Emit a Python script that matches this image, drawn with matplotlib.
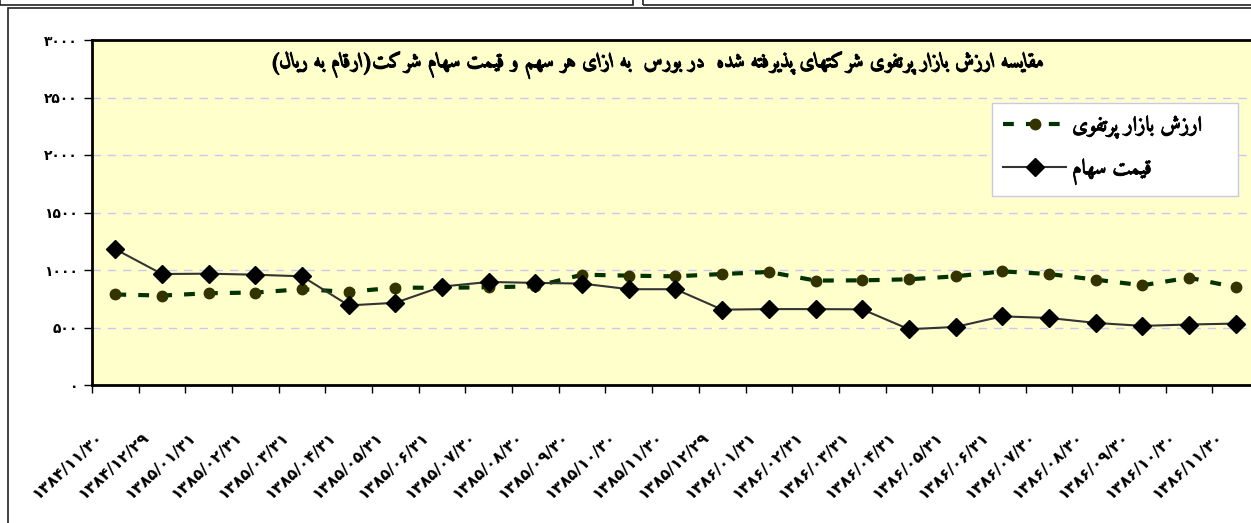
import matplotlib
matplotlib.use('Agg')
import matplotlib.pyplot as plt
import matplotlib.patheffects as pe
from matplotlib.patches import Rectangle
from matplotlib.transforms import ScaledTranslation

dates = ['1384/11/30', '1384/12/29', '1385/01/31', '1385/02/31', '1385/03/31',
         '1385/04/31', '1385/05/31', '1385/06/31', '1385/07/30', '1385/08/30',
         '1385/09/30', '1385/10/30', '1385/11/30', '1385/12/29', '1386/01/31',
         '1386/02/31', '1386/03/31', '1386/04/31', '1386/05/31', '1386/06/31',
         '1386/07/30', '1386/08/30', '1386/09/30', '1386/10/30', '1386/11/30']
portfolio = [787, 778, 798, 804, 833, 810, 847, 845, 850, 858, 959, 951, 945,
             965, 983, 908, 910, 919, 945, 988, 965, 916, 867, 933, 850]
price = [1181, 965, 968, 959, 945, 692, 715, 856, 896, 888, 882, 833, 833,
         655, 660, 660, 658, 485, 505, 597, 583, 540, 514, 526, 534]
y_ticks = [0, 500, 1000, 1500, 2000, 2500, 3000]

title = 'مقایسه ارزش بازار پرتفوی شرکتهای پذیرفته شده  در بورس  به ازای هر سهم و قیمت سهام شرکت(ارقام به ریال)'
label_portfolio = 'ارزش بازار پرتفوی'
label_price = 'قیمت سهام'

# presentation forms: isolated, final, initial, medial (None = joins right only)
FORMS = {
    'ا': ('\uFE8D', '\uFE8E', None, None),
    'ب': ('\uFE8F', '\uFE90', '\uFE91', '\uFE92'),
    'پ': ('\uFB56', '\uFB57', '\uFB58', '\uFB59'),
    'ت': ('\uFE95', '\uFE96', '\uFE97', '\uFE98'),
    'د': ('\uFEA9', '\uFEAA', None, None),
    'ذ': ('\uFEAB', '\uFEAC', None, None),
    'ر': ('\uFEAD', '\uFEAE', None, None),
    'ز': ('\uFEAF', '\uFEB0', None, None),
    'س': ('\uFEB1', '\uFEB2', '\uFEB3', '\uFEB4'),
    'ش': ('\uFEB5', '\uFEB6', '\uFEB7', '\uFEB8'),
    'ف': ('\uFED1', '\uFED2', '\uFED3', '\uFED4'),
    'ق': ('\uFED5', '\uFED6', '\uFED7', '\uFED8'),
    'ک': ('\uFB8E', '\uFB8F', '\uFB90', '\uFB91'),
    'ل': ('\uFEDD', '\uFEDE', '\uFEDF', '\uFEE0'),
    'م': ('\uFEE1', '\uFEE2', '\uFEE3', '\uFEE4'),
    'ه': ('\uFEE9', '\uFEEA', '\uFEEB', '\uFEEC'),
    'و': ('\uFEED', '\uFEEE', None, None),
    'ی': ('\uFBFC', '\uFBFD', '\uFBFE', '\uFBFF'),
}
MIRROR = {'(': ')', ')': '('}


def rtl(s):
    """Shape Persian text and put it in visual (left-to-right) order."""
    out = []
    for i, c in enumerate(s):
        if c not in FORMS:
            out.append(MIRROR.get(c, c))
            continue
        prev = s[i - 1] if i > 0 else None
        nxt = s[i + 1] if i + 1 < len(s) else None
        jp = prev in FORMS and FORMS[prev][2] is not None
        jn = FORMS[c][2] is not None and nxt in FORMS
        f = FORMS[c]
        if jp and jn:
            out.append(f[3])
        elif jp:
            out.append(f[1])
        elif jn:
            out.append(f[2])
        else:
            out.append(f[0])
    return ''.join(reversed(out))


def fa_digits(s):
    return str(s).translate(str.maketrans('0123456789', '۰۱۲۳۴۵۶۷۸۹'))


plt.rcParams['font.family'] = ['DejaVu Sans']
FA_FONT = ['Amiri', 'DejaVu Sans']

W, H = 1251, 523
fig = plt.figure(figsize=(W / 100, H / 100), dpi=100)

# frames of the sheet around the chart
fig.patches.append(Rectangle((0 / W, 1 - 4.5 / H), 633 / W, 10 / H, transform=fig.transFigure,
                             fill=False, edgecolor='#222222', lw=1.2))
fig.patches.append(Rectangle((643 / W, 1 - 4.5 / H), 620 / W, 10 / H, transform=fig.transFigure,
                             fill=False, edgecolor='#222222', lw=1.2))
fig.patches.append(Rectangle((7.5 / W, -0.05), 1.1, 1 - 7.5 / H + 0.05, transform=fig.transFigure,
                             fill=False, edgecolor='#222222', lw=1.2))

ax = fig.add_axes([92 / W, (H - 385) / H, 1167 / W, 345 / H])
ax.set_facecolor('#FFFFCC')

x = list(range(len(dates)))
ax.plot(x, portfolio, color='#003300', lw=3, dashes=(2.6, 2.9),
        marker='o', ms=7.5, mfc='#333300', mec='#333300', zorder=3,
        label=rtl(label_portfolio))
ax.plot(x, price, color='#333333', lw=1.5, marker='D', ms=9,
        mfc='black', mec='black', zorder=4, label=rtl(label_price))

ax.set_xlim(-0.5, len(dates) - 0.5)
ax.set_ylim(0, 3000)
ax.set_yticks(y_ticks)
ax.set_yticklabels([fa_digits(v) for v in y_ticks], fontweight='bold', fontsize=10)
ax.tick_params(axis='y', direction='out', length=6, width=1, pad=4)
ax.yaxis.grid(True, color='#C8C8F0', ls=(0, (6, 5)), lw=1)
ax.set_axisbelow(True)

ax.set_xticks([i - 0.5 for i in range(len(dates) + 1)])
ax.set_xticklabels([])
ax.tick_params(axis='x', direction='out', length=6, width=1)

# rotated date labels, right end sits a little left of and below each category
trans = ax.get_xaxis_transform() + ScaledTranslation(-0.15, -0.50, fig.dpi_scale_trans)
for i, d in enumerate(dates):
    ax.text(i, 0, fa_digits(d), transform=trans, rotation=43, rotation_mode='anchor',
            ha='right', va='center', fontsize=11.5, fontweight='bold')

for side in ['left', 'bottom', 'top']:
    ax.spines[side].set_linewidth(2)
    ax.spines[side].set_color('black')
ax.spines['right'].set_visible(False)

ax.text(0.8166, 0.928, rtl(title), transform=ax.transAxes, ha='right', va='center',
        fontsize=14.5, fontweight='bold', fontstyle='italic', family=FA_FONT,
        path_effects=[pe.withStroke(linewidth=0.7, foreground='black')])

leg = ax.legend(loc='upper left', bbox_to_anchor=(0.7712, 0.5594, 0.2108, 0.258),
                mode='expand', borderaxespad=0, fancybox=False, framealpha=1,
                edgecolor='#C8C8E8', handlelength=3.0, handletextpad=0.3,
                labelspacing=0.9, borderpad=0.55,
                prop={'weight': 'bold', 'size': 15, 'family': FA_FONT})
leg.get_frame().set_linewidth(1)
for t in leg.get_texts():
    t.set_path_effects([pe.withStroke(linewidth=0.5, foreground='black')])

fig.savefig('out.png', dpi=100)
